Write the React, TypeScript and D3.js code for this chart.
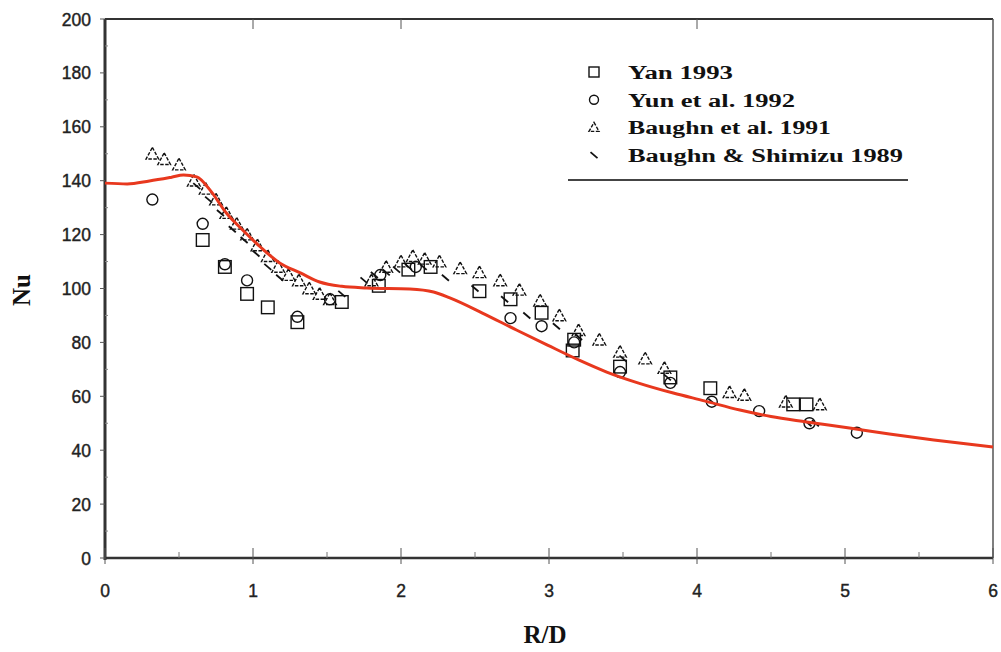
import React from "react";
import * as d3 from "d3";

// Correlation curve (red line)
const curveRD = [0, 0.15, 0.3, 0.45, 0.53, 0.62, 0.71, 0.82, 0.93, 1.05, 1.18, 1.32, 1.45, 1.6, 1.77, 2.06, 2.22, 2.33, 2.55, 2.78, 2.99, 3.2, 3.39, 3.6, 3.84, 4.05, 4.29, 4.5, 4.74, 5.03, 5.3, 5.6, 6.0];
const curveNu = [139.1, 138.8, 139.9, 141.3, 142.1, 141.4, 136.5, 128.0, 121.7, 115.4, 109.5, 105.8, 102.4, 100.8, 100.2, 99.8, 98.7, 96.5, 90.9, 84.6, 79.0, 73.5, 69.0, 65.0, 61.2, 58.3, 54.9, 52.5, 50.5, 48.2, 46.0, 43.8, 41.2];

// Yan 1993 (squares)
const yanRD = [0.66, 0.81, 0.96, 1.10, 1.30, 1.60, 1.85, 2.05, 2.2, 2.53, 2.74, 2.95, 3.16, 3.17, 3.48, 3.82, 4.09, 4.65, 4.74];
const yanNu = [118, 108, 98, 93, 87.5, 95, 101, 107, 108, 99, 96, 91, 77, 81, 71, 67, 63, 57, 57];

// Yun et al. 1992 (circles)
const yunRD = [0.32, 0.66, 0.81, 0.96, 1.30, 1.52, 1.86, 2.1, 2.74, 2.95, 3.17, 3.48, 3.82, 4.1, 4.42, 4.76, 5.08];
const yunNu = [133, 124, 109, 103, 89.5, 96, 105, 108, 89, 86, 80, 69, 65, 58, 54.5, 50, 46.5];

// Baughn et al. 1991 (triangles)
const baughnRD = [0.32, 0.4, 0.5, 0.6, 0.68, 0.75, 0.82, 0.89, 0.96, 1.03, 1.1, 1.17, 1.24, 1.31, 1.38, 1.45, 1.52, 1.8, 1.9, 2.0, 2.08, 2.16, 2.26, 2.4, 2.53, 2.67, 2.8, 2.94, 3.07, 3.2, 3.34, 3.48, 3.65, 3.78, 4.22, 4.32, 4.6, 4.83];
const baughnNu = [150, 148, 146, 140, 137, 133, 128, 124, 120, 116, 112, 108, 105, 103, 100, 98, 96, 103, 108, 110, 112, 111, 110, 107.5, 106, 103, 99.5, 95.5, 90, 84.5, 81, 76.5, 74, 70.5, 61.5, 60.5, 58, 57];

// Baughn & Shimizu 1989 (dashes)
const shimRD = [0.62, 0.7, 0.78, 0.86, 0.94, 1.02, 1.1, 1.18, 1.6, 1.75, 1.82, 1.9, 1.97, 2.05, 2.15, 2.3, 2.5, 2.7, 2.85, 3.05, 3.2, 3.5, 3.8, 4.1, 4.75, 4.8];
const shimNu = [138, 133, 128, 122, 118, 113, 108, 104, 98, 103, 105, 106, 107, 108, 108, 104, 100, 96, 90, 86, 82, 74, 67, 58, 50, 50];

const xTicks = [0, 1, 2, 3, 4, 5, 6];
const yTicks = [0, 20, 40, 60, 80, 100, 120, 140, 160, 180, 200];
const legendLabels = ["Yan 1993", "Yun et al. 1992", "Baughn et al. 1991", "Baughn & Shimizu 1989"];
const legendWidths = [105, 167, 203, 275];

const W = 1001, H = 652;
const L = 105, R = 993, T = 19, B = 558;

type Kind = "square" | "circle" | "triangle" | "dash";

function Marker({ kind, x, y, small }: { kind: Kind; x: number; y: number; small?: boolean }) {
  const s = small ? 5 : 6.3;
  const common = { fill: "none", stroke: "#111", strokeWidth: 1.4 };
  if (kind === "square") return <rect x={x - s} y={y - s} width={2 * s} height={2 * s} {...common} />;
  if (kind === "circle") return <circle cx={x} cy={y} r={small ? 4.5 : 5.5} {...common} />;
  if (kind === "triangle")
    return <path d={`M${x},${y - s}L${x + s},${y + s - 1}L${x - s},${y + s - 1}Z`} {...common} strokeDasharray="3.5 1.5" />;
  return <line x1={x - 3.5} y1={y - 3} x2={x + 3.5} y2={y + 3} stroke="#111" strokeWidth={1.8} />;
}

export default function App() {
  const x = d3.scaleLinear().domain([0, 6]).range([L, R]);
  const y = d3.scaleLinear().domain([0, 200]).range([B, T]);
  const line = d3.line<number>().x((_, i) => x(curveRD[i])).y((d) => y(d)).curve(d3.curveMonotoneX);

  const series: { kind: Kind; xs: number[]; ys: number[] }[] = [
    { kind: "square", xs: yanRD, ys: yanNu },
    { kind: "circle", xs: yunRD, ys: yunNu },
    { kind: "triangle", xs: baughnRD, ys: baughnNu },
    { kind: "dash", xs: shimRD, ys: shimNu },
  ];
  const legendKinds: Kind[] = ["square", "circle", "triangle", "dash"];
  const minorX = d3.range(0.5, 6, 1);
  const minorY = d3.range(10, 200, 20);
  const sans = "Arial, 'Liberation Sans', sans-serif";
  const serif = "'Liberation Serif', 'Times New Roman', serif";

  return (
    <svg width={W} height={H} style={{ position: "absolute", left: 0, top: 0, background: "#fff" }}>
      {/* frame */}
      <line x1={L} y1={T} x2={R} y2={T} stroke="#333" strokeWidth={2} />
      <line x1={R} y1={T} x2={R} y2={B} stroke="#555" strokeWidth={1.5} />
      <line x1={L} y1={B} x2={R} y2={B} stroke="#333" strokeWidth={2.5} />
      <line x1={L} y1={T} x2={L} y2={B + 2} stroke="#333" strokeWidth={3} />

      {/* x ticks */}
      {xTicks.map((t) => (
        <g key={"xt" + t}>
          <line x1={x(t)} y1={B - 10} x2={x(t)} y2={B + 6} stroke="#555" strokeWidth={1} />
          <text x={x(t)} y={597} textAnchor="middle" fontFamily={sans} fontSize={17.5} fill="#222" stroke="#222" strokeWidth={0.4}>
            {t}
          </text>
        </g>
      ))}
      {minorX.map((t) => (
        <line key={"xm" + t} x1={x(t)} y1={B - 6} x2={x(t)} y2={B} stroke="#777" strokeWidth={1} />
      ))}
      {[1, 2, 4].map((t) => (
        <line key={"xtop" + t} x1={x(t)} y1={T} x2={x(t)} y2={T + 10} stroke="#555" strokeWidth={1} />
      ))}

      {/* y ticks */}
      {yTicks.map((t) => (
        <g key={"yt" + t}>
          <line x1={L - 5} y1={y(t)} x2={L} y2={y(t)} stroke="#555" strokeWidth={1} />
          <text x={91} y={y(t) + 6.5} textAnchor="end" fontFamily={sans} fontSize={17.5} fill="#222" stroke="#222" strokeWidth={0.4}>
            {t}
          </text>
        </g>
      ))}
      {minorY.map((t) => (
        <line key={"ym" + t} x1={L} y1={y(t)} x2={L + 3} y2={y(t)} stroke="#888" strokeWidth={1} />
      ))}

      {/* markers */}
      {series.map((s, si) =>
        s.xs.map((xv, i) => <Marker key={si + "-" + i} kind={s.kind} x={x(xv)} y={y(s.ys[i])} />)
      )}

      {/* red curve */}
      <path d={line(curveNu) || ""} fill="none" stroke="#e8381e" strokeWidth={3} strokeLinejoin="round" />

      {/* legend */}
      {legendLabels.map((lab, i) => (
        <g key={"lg" + i}>
          <Marker kind={legendKinds[i]} x={594} y={72 + i * 27.7} small />
          <text
            x={628}
            y={79 + i * 27.7}
            fontFamily={serif}
            fontWeight="bold"
            fontSize={18}
            fill="#111"
            textLength={legendWidths[i]}
            lengthAdjust="spacingAndGlyphs"
          >
            {lab}
          </text>
        </g>
      ))}
      <line x1={568} y1={180} x2={908} y2={180} stroke="#444" strokeWidth={2} />

      {/* axis titles */}
      <text x={545} y={643} textAnchor="middle" fontFamily={serif} fontWeight="bold" fontSize={25} fill="#111">
        R/D
      </text>
      <text
        transform={`translate(30,290) rotate(-90)`}
        textAnchor="middle"
        fontFamily={serif}
        fontWeight="bold"
        fontSize={25}
        fill="#111"
      >
        Nu
      </text>
    </svg>
  );
}
